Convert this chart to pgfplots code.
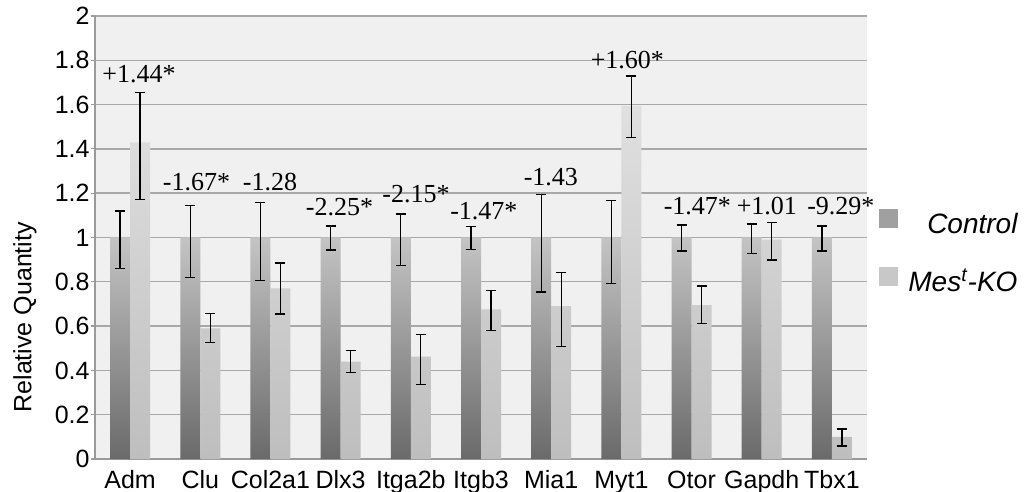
\documentclass[border=0pt]{standalone}
\usepackage{fontspec}
\setmainfont{Liberation Sans}
\newfontfamily\seriffont{Liberation Serif}
\usepackage{pgfplots}
\usepackage{pgfplotstable}
\pgfplotsset{compat=1.18}
\definecolor{bgc}{HTML}{F0F0F0}
\definecolor{gridc}{HTML}{A8A8A8}
\definecolor{axc}{HTML}{9A9A9A}
\definecolor{ctrlbot}{HTML}{6A6A6A}
\definecolor{ctrltop}{HTML}{C4C4C4}
\definecolor{kobot}{HTML}{BEBEBE}
\definecolor{kotop}{HTML}{E0E0E0}
\definecolor{ctrlleg}{HTML}{A0A0A0}
\definecolor{koleg}{HTML}{C8C8C8}

\pgfplotstableread{
x  ctrl cep   cem   ko    kep   kem
0  1    0.120 0.140 1.430 0.225 0.260
1  1    0.143 0.180 0.590 0.068 0.063
2  1    0.159 0.195 0.770 0.115 0.115
3  1    0.052 0.056 0.440 0.049 0.050
4  1    0.106 0.126 0.462 0.101 0.125
5  1    0.049 0.053 0.676 0.084 0.095
6  1    0.193 0.246 0.690 0.153 0.183
7  1    0.166 0.207 1.594 0.135 0.142
8  1    0.056 0.061 0.695 0.086 0.083
9  1    0.061 0.071 0.990 0.077 0.092
10 1    0.052 0.061 0.100 0.035 0.041
}\data

\begin{document}
\begin{tikzpicture}
\path[use as bounding box] (-47.5pt,-16.5pt) rectangle (466pt,229.5pt);
\begin{axis}[
  at={(0,0)}, anchor=south west,
  scale only axis, width=386pt, height=221.5pt,
  ybar=0pt, bar width=10pt,
  xmin=-0.5, xmax=10.5, ymin=0, ymax=2,
  xtick={0,1,2,3,4,5,6,7,8,9,10},
  xticklabels={Adm,Clu,Col2a1,Dlx3,Itga2b,Itgb3,Mia1,Myt1,Otor,Gapdh,Tbx1},
  ytick={0,0.2,0.4,0.6,0.8,1,1.2,1.4,1.6,1.8,2},
  yticklabels={0,0.2,0.4,0.6,0.8,1,1.2,1.4,1.6,1.8,2},
  axis x line*=bottom, axis y line*=left,
  axis line style={axc, line width=0.8pt, -},
  axis background/.style={fill=bgc},
  ymajorgrids, grid style={gridc, line width=0.7pt},
  xtick style={draw=none},
  ytick style={axc, line width=0.6pt},
  tick align=outside, major tick length=2pt,
  xticklabel style={font=\fontsize{12.5}{14}\selectfont, inner ysep=3pt, text height=9.5pt, text depth=2.5pt},
  yticklabel style={font=\fontsize{12.5}{14}\selectfont, inner xsep=0.5pt},
  /pgf/number format/assume math mode=true,
  ylabel={Relative Quantity},
  ylabel style={font=\fontsize{12.5}{14}\selectfont, at={(axis description cs:-0.0907,0.32)}, anchor=center, rotate=0},
  legend style={draw=none, fill=none, inner sep=0pt, at={(axis description cs:1,0.566)}, anchor=north west, xshift=6pt,
    font=\fontsize{14}{16}\selectfont\itshape, row sep=14pt, column sep=5pt,
    nodes={inner sep=0pt, text height=10.5pt, text depth=3pt}},
  legend cell align=right,
  clip=false,
]
\addplot[draw=none, top color=ctrltop, bottom color=ctrlbot,
  legend image code/.code={\pgfpathrectangle{\pgfpoint{0pt}{-1pt}}{\pgfpoint{9.5pt}{9.5pt}}\pgfsetfillcolor{ctrlleg}\pgfusepath{fill}},
  error bars/.cd, y dir=both, y explicit,
  error bar style={black, line width=0.6pt},
  error mark options={black, rotate=90, mark size=2.5pt, line width=0.6pt}]
  table[x=x, y=ctrl, y error plus=cep, y error minus=cem]{\data};
\addlegendentry{Control}
\addplot[draw=none, top color=kotop, bottom color=kobot,
  legend image code/.code={\pgfpathrectangle{\pgfpoint{0pt}{-1pt}}{\pgfpoint{9.5pt}{9.5pt}}\pgfsetfillcolor{koleg}\pgfusepath{fill}},
  error bars/.cd, y dir=both, y explicit,
  error bar style={black, line width=0.6pt},
  error mark options={black, rotate=90, mark size=2.5pt, line width=0.6pt}]
  table[x=x, y=ko, y error plus=kep, y error minus=kem]{\data};
\addlegendentry{Mes\textsuperscript{t}-KO}
\begin{scope}[every node/.style={font=\seriffont\fontsize{13}{15}\selectfont, anchor=base, inner sep=0pt}]
\node at (axis cs:0.127,1.700) {+1.44*};
\node at (axis cs:0.946,1.214) {-1.67*};
\node at (axis cs:1.993,1.214) {-1.28};
\node at (axis cs:2.983,1.100) {-2.25*};
\node at (axis cs:4.073,1.156) {-2.15*};
\node at (axis cs:5.041,1.083) {-1.47*};
\node at (axis cs:5.996,1.237) {-1.43};
\node at (axis cs:7.085,1.765) {+1.60*};
\node at (axis cs:8.083,1.106) {-1.47*};
\node at (axis cs:9.073,1.106) {+1.01};
\node at (axis cs:10.127,1.106) {-9.29*};
\end{scope}
\end{axis}
\end{tikzpicture}
\end{document}
